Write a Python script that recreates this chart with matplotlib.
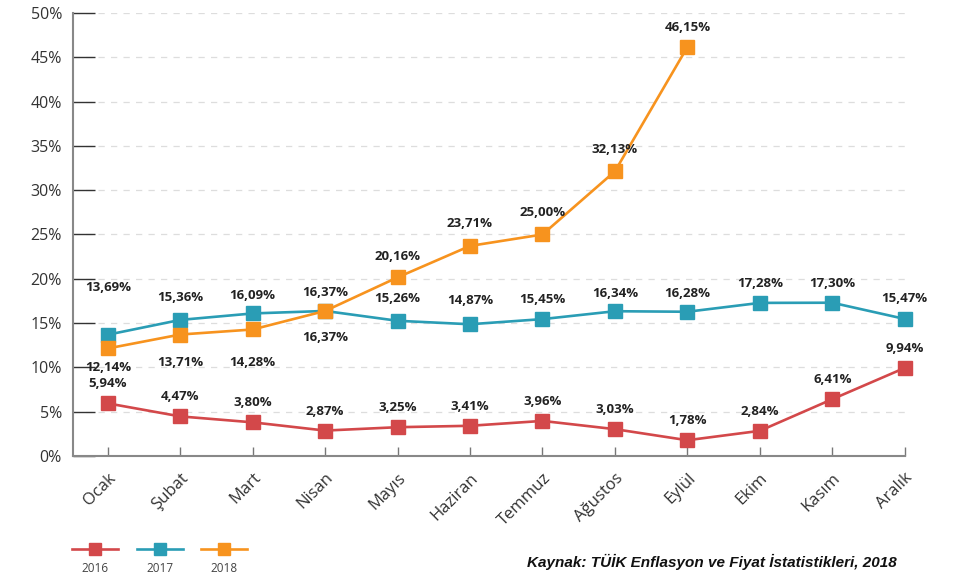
import matplotlib
matplotlib.use('Agg')
import matplotlib.pyplot as plt
from matplotlib.lines import Line2D

months = ['Ocak', 'Şubat', 'Mart', 'Nisan', 'Mayıs', 'Haziran', 'Temmuz',
          'Ağustos', 'Eylül', 'Ekim', 'Kasım', 'Aralık']
years = ['2016', '2017', '2018']
vals_2016 = [5.94, 4.47, 3.80, 2.87, 3.25, 3.41, 3.96, 3.03, 1.78, 2.84, 6.41, 9.94]
vals_2017 = [13.69, 15.36, 16.09, 16.37, 15.26, 14.87, 15.45, 16.34, 16.28, 17.28, 17.30, 15.47]
vals_2018 = [12.14, 13.71, 14.28, 16.37, 20.16, 23.71, 25.00, 32.13, 46.15]
yticks = [0, 5, 10, 15, 20, 25, 30, 35, 40, 45, 50]
source = 'Kaynak: TÜİK Enflasyon ve Fiyat İstatistikleri, 2018'

colors = ['#d3484a', '#2a9db5', '#f7931e']

plt.rcParams['font.family'] = ['Open Sans', 'DejaVu Sans']

fig = plt.figure(figsize=(9.75, 5.77), dpi=100)
ax = fig.add_axes([0.0749, 0.2097, 0.853, 0.7678])

# label offsets in points (positive = above the marker)
off_2016 = [14.5, 14, 14, 14, 14, 14, 14, 14, 14, 14, 14, 14]
off_2017 = [34, 16, 13, 13, 16, 17, 14, 13, 13, 14, 14, 15]
off_2018 = [-13.5, -20, -24, -19, 15, 16, 16, 16, 14]

series = [(vals_2016, off_2016), (vals_2017, off_2017), (vals_2018, off_2018)]
for (vals, offs), c in zip(series, colors):
    x = list(range(len(vals)))
    ax.plot(x, vals, color=c, lw=1.9, marker='s', ms=9.5, zorder=3, clip_on=False)
    for xi, v, o in zip(x, vals, offs):
        lab = f'{v:.2f}%'.replace('.', ',')
        ax.annotate(lab, (xi, v), xytext=(0, o), textcoords='offset points',
                    ha='center', va='center', fontsize=9.5, fontweight='bold',
                    color='#222222', zorder=4)

ax.set_xlim(-0.48, 11)
ax.set_ylim(0, 50)
ax.set_yticks(yticks)
ax.set_yticklabels([f'{t}%' for t in yticks], fontsize=11.5, color='#333333')
ax.set_xticks(range(len(months)))
ax.set_xticklabels(months, rotation=45, ha='right', va='top',
                   rotation_mode='anchor', fontsize=12, color='#333333')

ax.yaxis.grid(True, color='#dddddd', linestyle=(0, (5, 5)), lw=0.9)
ax.set_axisbelow(True)
ax.tick_params(axis='y', direction='in', length=16, width=1, color='#333333', pad=8)
ax.tick_params(axis='x', direction='in', length=6.5, width=1, color='#777777', pad=10)

for s in ['top', 'right']:
    ax.spines[s].set_visible(False)
for s in ['left', 'bottom']:
    ax.spines[s].set_color('#888888')
    ax.spines[s].set_linewidth(1.5)

# legend drawn by hand: line with marker, year under it
leg_x = [0.0974, 0.1641, 0.2297]
for cx, c, y in zip(leg_x, colors, years):
    fig.add_artist(Line2D([cx - 0.024, cx, cx + 0.024], [0.0485, 0.0485, 0.0485],
                          color=c, lw=1.9, marker='s', ms=8, markevery=[1],
                          transform=fig.transFigure))
    fig.text(cx, 0.014, y, ha='center', va='center', fontsize=8.5, color='#444444')

fig.text(0.92, 0.026, source, ha='right', va='center', fontsize=11,
         fontweight='bold', fontstyle='italic', family='Liberation Sans',
         color='#111111')

fig.savefig('out.png', dpi=100)
